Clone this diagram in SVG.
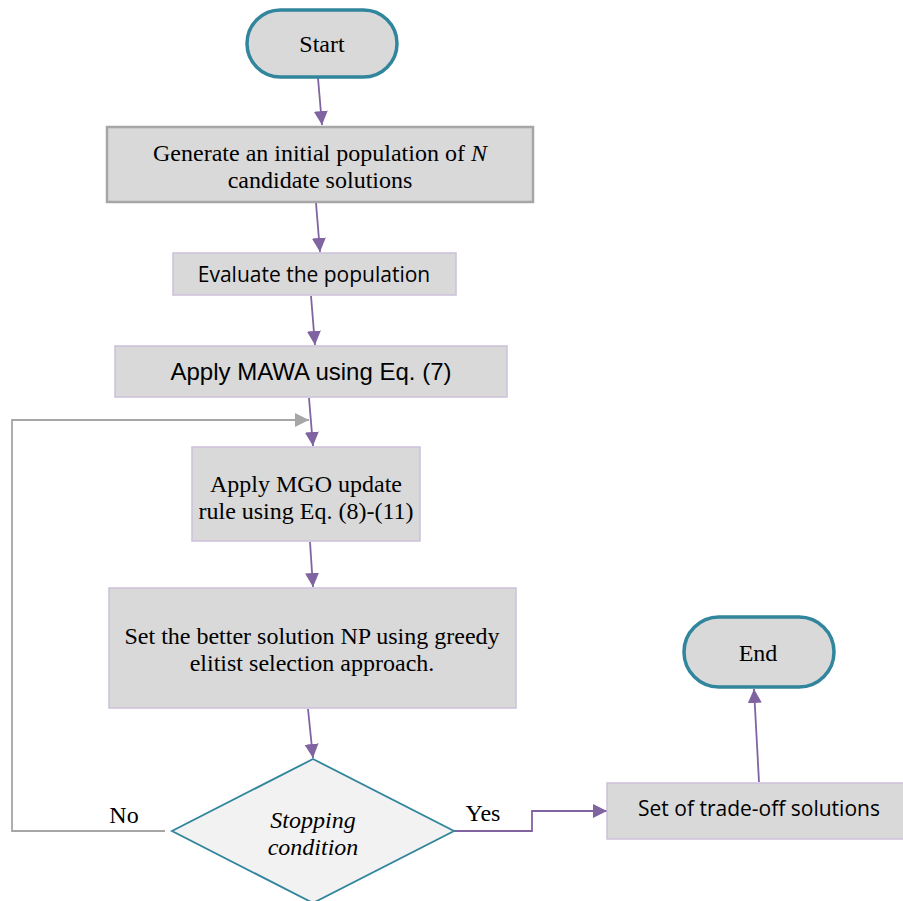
<svg xmlns="http://www.w3.org/2000/svg" width="903" height="901" viewBox="0 0 903 901">
<defs>
<marker id="ap" viewBox="0 0 10 10" refX="10" refY="5" markerWidth="14" markerHeight="14" markerUnits="userSpaceOnUse" orient="auto"><path d="M0,0 L10,5 L0,10 z" fill="#8064a2"/></marker>
<marker id="ag" viewBox="0 0 10 10" refX="10" refY="5" markerWidth="14" markerHeight="14" markerUnits="userSpaceOnUse" orient="auto"><path d="M0,0 L10,5 L0,10 z" fill="#a6a6a6"/></marker>
</defs>
<style>
.term{fill:#d9d9d9;stroke:#31859c;stroke-width:3.5}
.box{fill:#d9d9d9;stroke:#ccc0da;stroke-width:1.5}
.boxg{fill:#d9d9d9;stroke:#a6a6a6;stroke-width:2.5}
.dia{fill:#f2f2f2;stroke:#31859c;stroke-width:1.8}
.serif{font-family:"Liberation Serif","Times New Roman",serif;font-size:24px;fill:#000;text-anchor:middle}
.sans{font-family:"Liberation Sans",Arial,sans-serif;font-size:24px;fill:#000;text-anchor:middle}
.cal{font-family:"Open Sans","Liberation Sans",sans-serif;font-size:21px;fill:#000;text-anchor:middle}
.cp{fill:none;stroke:#8064a2;stroke-width:1.8}
.cg{fill:none;stroke:#a6a6a6;stroke-width:1.8}
</style>
<rect width="903" height="901" fill="#fff"/>
<g id="connectors">
<line class="cp" x1="318" y1="78" x2="322" y2="125" marker-end="url(#ap)"/>
<line class="cp" x1="316" y1="203" x2="320" y2="252" marker-end="url(#ap)"/>
<line class="cp" x1="311" y1="296" x2="315" y2="345" marker-end="url(#ap)"/>
<line class="cp" x1="309" y1="398" x2="313" y2="446" marker-end="url(#ap)"/>
<line class="cp" x1="310" y1="542" x2="313" y2="587" marker-end="url(#ap)"/>
<line class="cp" x1="308" y1="709" x2="313" y2="758" marker-end="url(#ap)"/>
<polyline class="cg" points="165,831 12,831 12,420 309,420" marker-end="url(#ag)"/>
<polyline class="cp" points="454,831 532,831 532,811 607,811" marker-end="url(#ap)"/>
<line class="cp" x1="759" y1="782" x2="754" y2="689" marker-end="url(#ap)"/>
<text class="serif" x="124" y="823">No</text>
<text class="serif" x="483" y="821">Yes</text>
</g>
<g id="start">
<rect class="term" x="247" y="10" width="150" height="67" rx="33.5"/>
<text class="serif" x="322" y="52">Start</text>
</g>
<g id="generate">
<rect class="boxg" x="107" y="127" width="426" height="75"/>
<text class="serif" x="320" y="161">Generate an initial population of <tspan font-style="italic">N</tspan></text>
<text class="serif" x="320" y="188">candidate solutions</text>
</g>
<g id="evaluate">
<rect class="box" x="173" y="253" width="283" height="42"/>
<text class="cal" x="314" y="282">Evaluate the population</text>
</g>
<g id="mawa">
<rect class="box" x="115" y="346" width="392" height="51"/>
<text class="sans" x="311" y="380">Apply MAWA using Eq. (7)</text>
</g>
<g id="mgo">
<rect class="box" x="192" y="447" width="228" height="94"/>
<text class="serif" x="306" y="492">Apply MGO update</text>
<text class="serif" x="306" y="519">rule using Eq. (8)-(11)</text>
</g>
<g id="select">
<rect class="box" x="109" y="588" width="407" height="120"/>
<text class="serif" x="312" y="644">Set the better solution NP using greedy</text>
<text class="serif" x="312" y="671">elitist selection approach.</text>
</g>
<g id="stop">
<polygon class="dia" points="313,759 454,831 313,903 172,831"/>
<text class="serif" x="313" y="828" font-style="italic">Stopping</text>
<text class="serif" x="313" y="855" font-style="italic">condition</text>
</g>
<g id="tradeoff">
<rect class="box" x="607" y="783" width="300" height="56"/>
<text class="cal" x="759" y="816">Set of trade-off solutions</text>
</g>
<g id="end">
<rect class="term" x="684" y="617" width="150" height="70" rx="35"/>
<text class="serif" x="758" y="661">End</text>
</g>
</svg>
